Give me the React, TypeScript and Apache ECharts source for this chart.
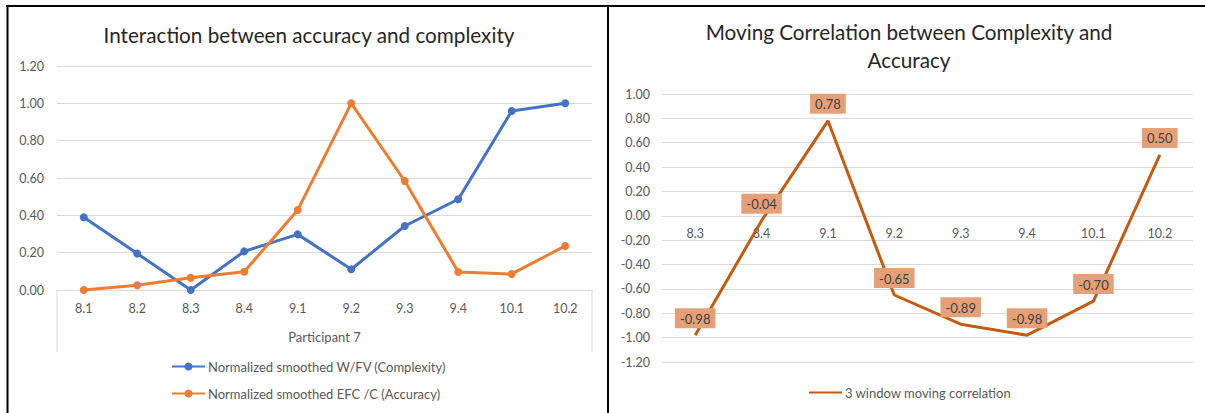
import React, { useEffect, useRef } from "react";
import * as echarts from "echarts";

const leftCategories = ["8.1", "8.2", "8.3", "8.4", "9.1", "9.2", "9.3", "9.4", "10.1", "10.2"];
const complexityValues = [0.39, 0.195, 0.0, 0.207, 0.298, 0.111, 0.343, 0.486, 0.959, 1.0];
const accuracyValues = [0.0, 0.025, 0.066, 0.098, 0.429, 1.0, 0.584, 0.096, 0.086, 0.236];
const rightCategories = ["8.3", "8.4", "9.1", "9.2", "9.3", "9.4", "10.1", "10.2"];
const movingCorrelationValues = [-0.98, -0.04, 0.78, -0.65, -0.89, -0.98, -0.7, 0.5];

const complexityName = "Normalized smoothed W/FV (Complexity)";
const accuracyName = "Normalized smoothed EFC /C (Accuracy)";
const correlationName = "3 window moving correlation";
const leftTitle = "Interaction between accuracy and complexity";
const rightTitle = "Moving Correlation between Complexity and\nAccuracy";
const leftAxisName = "Participant 7";

const LEFT_Y_MIN = 0;
const LEFT_Y_MAX = 1.2;
const RIGHT_Y_MIN = -1.2;
const RIGHT_Y_MAX = 1.0;
const Y_STEP = 0.2;

const FONT = "Lato, 'Liberation Sans', sans-serif";
const GRID_L = { left: 57, top: 66, width: 535, height: 224 };
const GRID_R = { left: 662, top: 94, width: 531, height: 268 };
const fmt = (v: number) => (Math.abs(v) < 1e-9 ? "0.00" : v.toFixed(2));

export default function App() {
  const ref = useRef<HTMLDivElement>(null);
  useEffect(() => {
    if (!ref.current) return;
    const chart = echarts.init(ref.current, undefined, { renderer: "svg" });
    const labelColor = "#595959";
    const gridColor = "#d9d9d9";
    const rightZeroOffset = -GRID_R.height * ((0 - RIGHT_Y_MIN) / (RIGHT_Y_MAX - RIGHT_Y_MIN));
    chart.setOption({
      animation: false,
      textStyle: { fontFamily: FONT },
      title: [
        {
          text: leftTitle,
          left: 309,
          top: 22,
          textAlign: "center",
          padding: 0,
          textStyle: { fontFamily: FONT, fontSize: 20.7, fontWeight: "normal", color: "#262626", lineHeight: 26 },
        },
        {
          text: rightTitle,
          left: 909,
          top: 18,
          textAlign: "center",
          padding: 0,
          textStyle: { fontFamily: FONT, fontSize: 20.7, fontWeight: "normal", color: "#262626", lineHeight: 28 },
        },
      ],
      legend: [
        {
          orient: "vertical",
          left: 171,
          top: 360,
          padding: 0,
          itemWidth: 33,
          itemHeight: 10,
          itemGap: 14,
          data: [complexityName, accuracyName],
          textStyle: { fontFamily: FONT, fontSize: 13, color: labelColor, padding: [0, 0, 0, -2] },
        },
        {
          left: 808,
          top: 386,
          padding: 0,
          itemWidth: 33,
          itemHeight: 10,
          data: [correlationName],
          itemStyle: { opacity: 0 },
          textStyle: { fontFamily: FONT, fontSize: 13, color: labelColor, padding: [0, 0, 0, -2] },
        },
      ],
      grid: [
        { ...GRID_L, containLabel: false },
        { ...GRID_R, containLabel: false },
      ],
      xAxis: [
        {
          type: "category",
          gridIndex: 0,
          data: leftCategories,
          boundaryGap: true,
          axisLine: { show: true, lineStyle: { color: gridColor } },
          axisTick: { show: false },
          axisLabel: { color: labelColor, fontSize: 12.5, margin: 12, fontFamily: FONT },
          name: leftAxisName,
          nameLocation: "middle",
          nameGap: 40,
          nameTextStyle: { color: labelColor, fontSize: 13, fontFamily: FONT },
        },
        {
          type: "category",
          gridIndex: 1,
          data: rightCategories,
          boundaryGap: true,
          offset: rightZeroOffset,
          axisLine: { show: true, onZero: false, lineStyle: { color: gridColor } },
          axisTick: { show: false },
          axisLabel: { color: labelColor, fontSize: 12.5, margin: 11, fontFamily: FONT },
        },
      ],
      yAxis: [
        {
          type: "value",
          gridIndex: 0,
          min: LEFT_Y_MIN,
          max: LEFT_Y_MAX,
          interval: Y_STEP,
          axisLine: { show: false },
          axisTick: { show: false },
          splitLine: { lineStyle: { color: gridColor } },
          axisLabel: { color: labelColor, fontSize: 12.5, margin: 13, formatter: fmt, fontFamily: FONT },
        },
        {
          type: "value",
          gridIndex: 1,
          min: RIGHT_Y_MIN,
          max: RIGHT_Y_MAX,
          interval: Y_STEP,
          axisLine: { show: false },
          axisTick: { show: false },
          splitLine: { lineStyle: { color: gridColor } },
          axisLabel: { color: labelColor, fontSize: 12.5, margin: 12, formatter: fmt, fontFamily: FONT },
        },
      ],
      series: [
        {
          name: complexityName,
          type: "line",
          xAxisIndex: 0,
          yAxisIndex: 0,
          data: complexityValues,
          symbol: "circle",
          symbolSize: 8,
          color: "#4472C4",
          lineStyle: { width: 3, color: "#4472C4" },
          itemStyle: { color: "#4472C4" },
        },
        {
          name: accuracyName,
          type: "line",
          xAxisIndex: 0,
          yAxisIndex: 0,
          data: accuracyValues,
          symbol: "circle",
          symbolSize: 8,
          color: "#ED7D31",
          lineStyle: { width: 3, color: "#ED7D31" },
          itemStyle: { color: "#ED7D31" },
        },
        {
          name: correlationName,
          type: "line",
          xAxisIndex: 1,
          yAxisIndex: 1,
          data: movingCorrelationValues,
          symbol: "circle",
          symbolSize: 0,
          color: "#C55A11",
          lineStyle: { width: 3, color: "#C55A11" },
          itemStyle: { color: "#C55A11" },
          label: {
            show: true,
            position: "top",
            distance: 7,
            formatter: (p: any) => fmt(p.value),
            backgroundColor: "#E6A078",
            padding: [4, 5, 3, 5],
            color: "#404040",
            fontSize: 13,
            fontFamily: FONT,
          },
        },
      ],
      graphic: [
        { type: "line", shape: { x1: 6, y1: 6, x2: 1205, y2: 6 }, style: { stroke: "#000", lineWidth: 2 } },
        { type: "line", shape: { x1: 7.5, y1: 6, x2: 7.5, y2: 413 }, style: { stroke: "#000", lineWidth: 2 } },
        { type: "line", shape: { x1: 608, y1: 6, x2: 608, y2: 413 }, style: { stroke: "#000", lineWidth: 2 } },
        {
          type: "line",
          shape: { x1: GRID_L.left, y1: GRID_L.top + GRID_L.height, x2: GRID_L.left, y2: 352 },
          style: { stroke: gridColor, lineWidth: 1 },
        },
        {
          type: "line",
          shape: {
            x1: GRID_L.left + GRID_L.width,
            y1: GRID_L.top + GRID_L.height,
            x2: GRID_L.left + GRID_L.width,
            y2: 352,
          },
          style: { stroke: gridColor, lineWidth: 1 },
        },
      ],
    });
    return () => chart.dispose();
  }, []);
  return (
    <div
      ref={ref}
      style={{ position: "fixed", left: 0, top: 0, width: 1205, height: 413, background: "#fff" }}
    />
  );
}
